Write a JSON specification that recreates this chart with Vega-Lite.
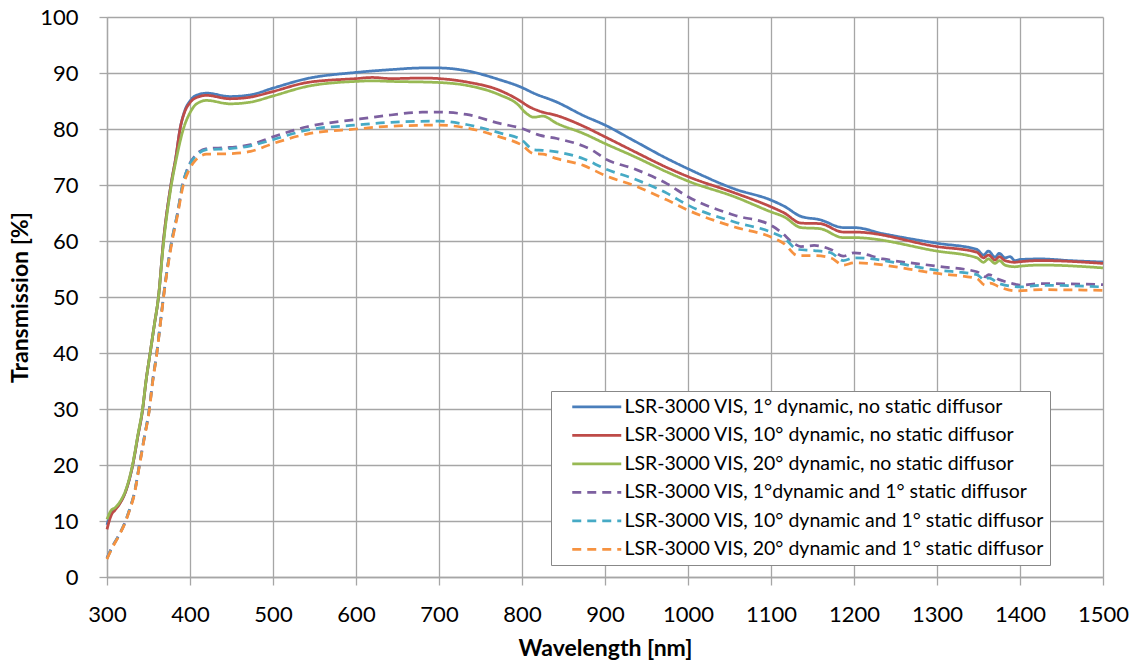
{
  "$schema": "https://vega.github.io/schema/vega-lite/v6.json",
  "width": 996,
  "height": 560,
  "autosize": {"type": "none"},
  "padding": {"left": 107, "top": 17, "right": 33, "bottom": 88},
  "background": "white",
  "config": {
    "font": "Lato",
    "view": {"stroke": null},
    "axis": {
      "gridColor": "#A6A6A6",
      "gridWidth": 1.3,
      "domainColor": "#A6A6A6",
      "domainWidth": 1.3,
      "tickColor": "#A6A6A6",
      "tickWidth": 1.3,
      "tickSize": 8,
      "labelFont": "Lato",
      "labelFontSize": 22,
      "labelColor": "#000000",
      "labelFlush": false,
      "titleFont": "Lato",
      "titleFontSize": 23,
      "titleFontWeight": "bold",
      "titleColor": "#000000"
    }
  },
  "data": {
    "values": [
      {"id":"B","w":300,"t":9.3},{"id":"B","w":305,"t":11.5},{"id":"B","w":310,"t":12.2},{"id":"B","w":315,"t":13.1},{"id":"B","w":323,"t":15.5},{"id":"B","w":331,"t":20.0},{"id":"B","w":337,"t":25.0},{"id":"B","w":343,"t":30.0},{"id":"B","w":347,"t":35.0},{"id":"B","w":352,"t":40.0},{"id":"B","w":357,"t":45.0},{"id":"B","w":362,"t":50.0},{"id":"B","w":368,"t":60.0},{"id":"B","w":377,"t":70.0},{"id":"B","w":383,"t":75.0},{"id":"B","w":388,"t":80.0},{"id":"B","w":394,"t":83.4},{"id":"B","w":400,"t":85.0},{"id":"B","w":406,"t":85.9},{"id":"B","w":420,"t":86.4},{"id":"B","w":448,"t":85.8},{"id":"B","w":473,"t":86.1},{"id":"B","w":500,"t":87.3},{"id":"B","w":541,"t":89.0},{"id":"B","w":600,"t":90.1},{"id":"B","w":642,"t":90.6},{"id":"B","w":680,"t":90.9},{"id":"B","w":700,"t":90.9},{"id":"B","w":733,"t":90.4},{"id":"B","w":773,"t":88.8},{"id":"B","w":800,"t":87.4},{"id":"B","w":814,"t":86.4},{"id":"B","w":842,"t":84.8},{"id":"B","w":874,"t":82.4},{"id":"B","w":900,"t":80.7},{"id":"B","w":935,"t":77.9},{"id":"B","w":975,"t":74.7},{"id":"B","w":1000,"t":72.9},{"id":"B","w":1056,"t":69.3},{"id":"B","w":1100,"t":67.3},{"id":"B","w":1116,"t":66.2},{"id":"B","w":1136,"t":64.4},{"id":"B","w":1159,"t":63.8},{"id":"B","w":1187,"t":62.4},{"id":"B","w":1200,"t":62.4},{"id":"B","w":1235,"t":61.3},{"id":"B","w":1300,"t":59.6},{"id":"B","w":1348,"t":58.5},{"id":"B","w":1356,"t":57.5},{"id":"B","w":1362,"t":58.2},{"id":"B","w":1370,"t":57.1},{"id":"B","w":1375,"t":57.8},{"id":"B","w":1382,"t":57.0},{"id":"B","w":1388,"t":57.2},{"id":"B","w":1394,"t":56.5},{"id":"B","w":1400,"t":56.7},{"id":"B","w":1425,"t":56.8},{"id":"B","w":1460,"t":56.5},{"id":"B","w":1500,"t":56.25},
      {"id":"R","w":300,"t":8.5},{"id":"R","w":305,"t":11.0},{"id":"R","w":310,"t":12.0},{"id":"R","w":315,"t":13.0},{"id":"R","w":323,"t":15.5},{"id":"R","w":331,"t":20.0},{"id":"R","w":337,"t":25.0},{"id":"R","w":343,"t":30.0},{"id":"R","w":347,"t":35.0},{"id":"R","w":352,"t":40.0},{"id":"R","w":357,"t":45.0},{"id":"R","w":362,"t":50.0},{"id":"R","w":368,"t":60.0},{"id":"R","w":377,"t":70.0},{"id":"R","w":383,"t":75.0},{"id":"R","w":388,"t":80.0},{"id":"R","w":394,"t":83.2},{"id":"R","w":400,"t":84.7},{"id":"R","w":406,"t":85.5},{"id":"R","w":420,"t":86.0},{"id":"R","w":448,"t":85.4},{"id":"R","w":473,"t":85.7},{"id":"R","w":500,"t":86.7},{"id":"R","w":541,"t":88.3},{"id":"R","w":600,"t":89.0},{"id":"R","w":620,"t":89.2},{"id":"R","w":642,"t":89.0},{"id":"R","w":680,"t":89.1},{"id":"R","w":700,"t":89.0},{"id":"R","w":733,"t":88.4},{"id":"R","w":773,"t":86.9},{"id":"R","w":800,"t":84.8},{"id":"R","w":806,"t":84.2},{"id":"R","w":821,"t":83.2},{"id":"R","w":842,"t":82.4},{"id":"R","w":874,"t":80.5},{"id":"R","w":900,"t":78.6},{"id":"R","w":935,"t":76.0},{"id":"R","w":975,"t":73.1},{"id":"R","w":1000,"t":71.5},{"id":"R","w":1056,"t":68.6},{"id":"R","w":1100,"t":66.1},{"id":"R","w":1116,"t":65.0},{"id":"R","w":1136,"t":63.2},{"id":"R","w":1159,"t":63.1},{"id":"R","w":1187,"t":61.6},{"id":"R","w":1200,"t":61.6},{"id":"R","w":1300,"t":59.0},{"id":"R","w":1348,"t":58.0},{"id":"R","w":1356,"t":57.0},{"id":"R","w":1362,"t":57.5},{"id":"R","w":1370,"t":56.6},{"id":"R","w":1375,"t":57.2},{"id":"R","w":1382,"t":56.5},{"id":"R","w":1394,"t":56.2},{"id":"R","w":1400,"t":56.3},{"id":"R","w":1425,"t":56.5},{"id":"R","w":1500,"t":56.0},
      {"id":"G","w":300,"t":10.3},{"id":"G","w":305,"t":11.9},{"id":"G","w":310,"t":12.4},{"id":"G","w":315,"t":13.3},{"id":"G","w":323,"t":15.7},{"id":"G","w":331,"t":20.2},{"id":"G","w":337,"t":25.2},{"id":"G","w":343,"t":30.2},{"id":"G","w":347,"t":35.0},{"id":"G","w":352,"t":40.0},{"id":"G","w":357,"t":45.0},{"id":"G","w":362,"t":50.0},{"id":"G","w":368,"t":59.5},{"id":"G","w":377,"t":69.5},{"id":"G","w":384,"t":75.0},{"id":"G","w":392,"t":80.0},{"id":"G","w":400,"t":82.9},{"id":"G","w":408,"t":84.5},{"id":"G","w":420,"t":85.1},{"id":"G","w":448,"t":84.5},{"id":"G","w":473,"t":84.8},{"id":"G","w":500,"t":85.9},{"id":"G","w":541,"t":87.6},{"id":"G","w":600,"t":88.5},{"id":"G","w":620,"t":88.6},{"id":"G","w":642,"t":88.5},{"id":"G","w":700,"t":88.3},{"id":"G","w":733,"t":87.8},{"id":"G","w":773,"t":86.1},{"id":"G","w":794,"t":84.5},{"id":"G","w":806,"t":82.7},{"id":"G","w":814,"t":82.1},{"id":"G","w":825,"t":82.3},{"id":"G","w":842,"t":81.0},{"id":"G","w":874,"t":79.2},{"id":"G","w":900,"t":77.4},{"id":"G","w":935,"t":75.1},{"id":"G","w":975,"t":72.3},{"id":"G","w":1000,"t":70.7},{"id":"G","w":1056,"t":67.9},{"id":"G","w":1100,"t":65.2},{"id":"G","w":1116,"t":64.3},{"id":"G","w":1136,"t":62.4},{"id":"G","w":1159,"t":62.2},{"id":"G","w":1187,"t":60.6},{"id":"G","w":1200,"t":60.6},{"id":"G","w":1300,"t":58.2},{"id":"G","w":1348,"t":57.0},{"id":"G","w":1356,"t":56.2},{"id":"G","w":1362,"t":56.8},{"id":"G","w":1370,"t":56.0},{"id":"G","w":1375,"t":56.5},{"id":"G","w":1382,"t":55.7},{"id":"G","w":1394,"t":55.4},{"id":"G","w":1400,"t":55.5},{"id":"G","w":1425,"t":55.7},{"id":"G","w":1500,"t":55.2},
      {"id":"P","w":300,"t":3.4},{"id":"P","w":307,"t":5.6},{"id":"P","w":313,"t":7.1},{"id":"P","w":321,"t":9.5},{"id":"P","w":327,"t":12.0},{"id":"P","w":333,"t":15.0},{"id":"P","w":339,"t":20.0},{"id":"P","w":345,"t":25.0},{"id":"P","w":351,"t":30.0},{"id":"P","w":355,"t":35.0},{"id":"P","w":360,"t":40.0},{"id":"P","w":364,"t":45.0},{"id":"P","w":368,"t":50.0},{"id":"P","w":378,"t":60.0},{"id":"P","w":385,"t":65.0},{"id":"P","w":391,"t":70.0},{"id":"P","w":398,"t":73.3},{"id":"P","w":406,"t":75.2},{"id":"P","w":420,"t":76.5},{"id":"P","w":448,"t":76.7},{"id":"P","w":473,"t":77.2},{"id":"P","w":500,"t":78.6},{"id":"P","w":541,"t":80.4},{"id":"P","w":600,"t":81.7},{"id":"P","w":642,"t":82.5},{"id":"P","w":680,"t":83.0},{"id":"P","w":700,"t":83.0},{"id":"P","w":733,"t":82.6},{"id":"P","w":773,"t":81.0},{"id":"P","w":800,"t":80.1},{"id":"P","w":821,"t":78.9},{"id":"P","w":842,"t":78.3},{"id":"P","w":887,"t":76.0},{"id":"P","w":900,"t":74.7},{"id":"P","w":935,"t":72.9},{"id":"P","w":975,"t":70.2},{"id":"P","w":1000,"t":67.9},{"id":"P","w":1056,"t":64.6},{"id":"P","w":1100,"t":62.8},{"id":"P","w":1112,"t":61.6},{"id":"P","w":1128,"t":59.5},{"id":"P","w":1136,"t":59.0},{"id":"P","w":1152,"t":59.2},{"id":"P","w":1172,"t":58.5},{"id":"P","w":1187,"t":57.3},{"id":"P","w":1200,"t":57.9},{"id":"P","w":1235,"t":56.8},{"id":"P","w":1300,"t":55.5},{"id":"P","w":1348,"t":54.5},{"id":"P","w":1358,"t":53.6},{"id":"P","w":1362,"t":54.0},{"id":"P","w":1375,"t":53.1},{"id":"P","w":1391,"t":52.4},{"id":"P","w":1400,"t":52.1},{"id":"P","w":1425,"t":52.4},{"id":"P","w":1500,"t":52.2},
      {"id":"C","w":300,"t":3.3},{"id":"C","w":307,"t":5.5},{"id":"C","w":313,"t":7.1},{"id":"C","w":321,"t":9.5},{"id":"C","w":327,"t":12.0},{"id":"C","w":333,"t":15.0},{"id":"C","w":339,"t":20.0},{"id":"C","w":345,"t":25.0},{"id":"C","w":351,"t":30.0},{"id":"C","w":355,"t":35.0},{"id":"C","w":360,"t":40.0},{"id":"C","w":364,"t":45.0},{"id":"C","w":368,"t":50.0},{"id":"C","w":378,"t":60.0},{"id":"C","w":385,"t":65.0},{"id":"C","w":391,"t":70.0},{"id":"C","w":398,"t":73.2},{"id":"C","w":406,"t":75.0},{"id":"C","w":420,"t":76.3},{"id":"C","w":448,"t":76.5},{"id":"C","w":473,"t":77.0},{"id":"C","w":500,"t":78.1},{"id":"C","w":541,"t":79.8},{"id":"C","w":600,"t":80.7},{"id":"C","w":642,"t":81.2},{"id":"C","w":700,"t":81.4},{"id":"C","w":733,"t":80.8},{"id":"C","w":773,"t":79.3},{"id":"C","w":800,"t":78.0},{"id":"C","w":814,"t":76.3},{"id":"C","w":825,"t":76.2},{"id":"C","w":842,"t":75.9},{"id":"C","w":874,"t":74.7},{"id":"C","w":900,"t":72.9},{"id":"C","w":935,"t":71.1},{"id":"C","w":975,"t":68.5},{"id":"C","w":1000,"t":66.4},{"id":"C","w":1056,"t":63.4},{"id":"C","w":1100,"t":61.6},{"id":"C","w":1116,"t":60.5},{"id":"C","w":1132,"t":58.5},{"id":"C","w":1152,"t":58.3},{"id":"C","w":1172,"t":57.9},{"id":"C","w":1187,"t":56.5},{"id":"C","w":1200,"t":57.0},{"id":"C","w":1300,"t":54.8},{"id":"C","w":1348,"t":54.0},{"id":"C","w":1358,"t":53.0},{"id":"C","w":1362,"t":53.4},{"id":"C","w":1375,"t":52.4},{"id":"C","w":1400,"t":51.8},{"id":"C","w":1425,"t":52.1},{"id":"C","w":1500,"t":51.8},
      {"id":"O","w":300,"t":3.2},{"id":"O","w":307,"t":5.4},{"id":"O","w":313,"t":7.0},{"id":"O","w":321,"t":9.4},{"id":"O","w":327,"t":11.8},{"id":"O","w":333,"t":14.8},{"id":"O","w":339,"t":19.8},{"id":"O","w":345,"t":24.8},{"id":"O","w":351,"t":29.8},{"id":"O","w":355,"t":34.8},{"id":"O","w":360,"t":39.8},{"id":"O","w":364,"t":44.8},{"id":"O","w":368,"t":49.8},{"id":"O","w":378,"t":59.6},{"id":"O","w":385,"t":64.6},{"id":"O","w":391,"t":69.4},{"id":"O","w":398,"t":72.4},{"id":"O","w":406,"t":74.3},{"id":"O","w":420,"t":75.5},{"id":"O","w":448,"t":75.6},{"id":"O","w":473,"t":76.0},{"id":"O","w":500,"t":77.4},{"id":"O","w":541,"t":79.1},{"id":"O","w":600,"t":80.0},{"id":"O","w":642,"t":80.5},{"id":"O","w":700,"t":80.7},{"id":"O","w":733,"t":80.2},{"id":"O","w":773,"t":78.6},{"id":"O","w":800,"t":77.1},{"id":"O","w":814,"t":75.6},{"id":"O","w":825,"t":75.5},{"id":"O","w":842,"t":74.7},{"id":"O","w":874,"t":73.5},{"id":"O","w":900,"t":71.7},{"id":"O","w":935,"t":69.9},{"id":"O","w":975,"t":67.3},{"id":"O","w":1000,"t":65.5},{"id":"O","w":1056,"t":62.5},{"id":"O","w":1100,"t":60.7},{"id":"O","w":1116,"t":59.5},{"id":"O","w":1132,"t":57.4},{"id":"O","w":1152,"t":57.4},{"id":"O","w":1172,"t":57.0},{"id":"O","w":1187,"t":55.7},{"id":"O","w":1200,"t":56.1},{"id":"O","w":1300,"t":54.2},{"id":"O","w":1348,"t":53.3},{"id":"O","w":1358,"t":52.1},{"id":"O","w":1364,"t":52.5},{"id":"O","w":1375,"t":51.8},{"id":"O","w":1395,"t":51.1},{"id":"O","w":1425,"t":51.3},{"id":"O","w":1500,"t":51.2}
    ]
  },
  "transform": [
    {"lookup": "id", "from": {"data": {"values": [
      {"id":"B","series":"LSR-3000 VIS, 1° dynamic, no static diffusor"},
      {"id":"R","series":"LSR-3000 VIS, 10° dynamic, no static diffusor"},
      {"id":"G","series":"LSR-3000 VIS, 20° dynamic, no static diffusor"},
      {"id":"P","series":"LSR-3000 VIS, 1°dynamic and 1° static diffusor"},
      {"id":"C","series":"LSR-3000 VIS, 10° dynamic and 1° static diffusor"},
      {"id":"O","series":"LSR-3000 VIS, 20° dynamic and 1° static diffusor"}
    ]}, "key": "id", "fields": ["series"]}}
  ],
  "mark": {"type": "line", "strokeWidth": 2.75, "interpolate": "monotone"},
  "encoding": {
    "x": {
      "field": "w", "type": "quantitative",
      "scale": {"domain": [300, 1500], "nice": false, "zero": false},
      "axis": {"title": "Wavelength [nm]", "format": "d", "values": [300,400,500,600,700,800,900,1000,1100,1200,1300,1400,1500], "labelPadding": 19, "titlePadding": 12}
    },
    "y": {
      "field": "t", "type": "quantitative",
      "scale": {"domain": [0, 100], "nice": false},
      "axis": {"title": "Transmission [%]", "values": [0,10,20,30,40,50,60,70,80,90,100], "labelPadding": 21, "titlePadding": 7}
    },
    "color": {
      "field": "series", "type": "nominal",
      "scale": {
        "domain": ["LSR-3000 VIS, 1° dynamic, no static diffusor","LSR-3000 VIS, 10° dynamic, no static diffusor","LSR-3000 VIS, 20° dynamic, no static diffusor","LSR-3000 VIS, 1°dynamic and 1° static diffusor","LSR-3000 VIS, 10° dynamic and 1° static diffusor","LSR-3000 VIS, 20° dynamic and 1° static diffusor"],
        "range": ["#4A7EBB","#BE4B48","#98B954","#7D60A0","#46AAC5","#F69240"]
      },
      "legend": {
        "title": null,
        "orient": "none",
        "legendX": 444,
        "legendY": 374,
        "strokeColor": "#888888",
        "fillColor": "white",
        "padding": 6,
        "symbolType": "M-4.9,0H4.9",
        "symbolSize": 100,
        "symbolStrokeWidth": 2.75,
        "symbolOffset": 30,
        "labelOffset": 18,
        "labelFont": "Lato",
        "labelFontSize": 19.5,
        "labelColor": "#000000",
        "labelLimit": 500,
        "rowPadding": 7.5
      }
    },
    "strokeDash": {
      "field": "series", "type": "nominal",
      "scale": {
        "domain": ["LSR-3000 VIS, 1° dynamic, no static diffusor","LSR-3000 VIS, 10° dynamic, no static diffusor","LSR-3000 VIS, 20° dynamic, no static diffusor","LSR-3000 VIS, 1°dynamic and 1° static diffusor","LSR-3000 VIS, 10° dynamic and 1° static diffusor","LSR-3000 VIS, 20° dynamic and 1° static diffusor"],
        "range": [[1,0],[1,0],[1,0],[9,6],[9,6],[9,6]]
      },
      "legend": null
    }
  }
}
